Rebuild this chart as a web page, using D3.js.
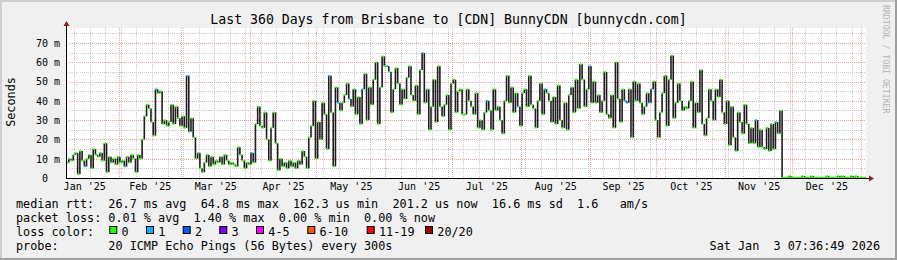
<!DOCTYPE html>
<html>
<head>
<meta charset="utf-8">
<script src="https://cdn.jsdelivr.net/npm/d3@7"></script>
<style>
  html, body { margin: 0; padding: 0; background: #f0f0f0; }
  svg text { font-family: "DejaVu Sans Mono", monospace; white-space: pre; }
</style>
</head>
<body>
<svg id="viz"></svg>
<script>
// Size of the picture, same as the rrdtool png
let width = 897, height = 260;

// Median round trip time, one value a day (ms), from 8 Jan 2025 on.
const medianMs = [
  8,10,9,12,13,2,14,9,6,10,12,5,15,12,11,13,9,18,3,11,8,10,7,11,8,9,6,11,8,12,10,3,12,10,20,32,38,36,29,22,
  46,44,45,28,30,27,29,38,28,37,31,27,32,26,53,24,31,21,10,13,5,3,8,12,6,11,7,9,8,11,7,12,9,
  7,8,7,6,16,12,9,5,8,7,13,8,28,37,27,26,34,20,9,26,34,18,4,10,6,8,5,9,6,8,5,9,7,14,11,5,21,27,40,10,
  29,20,39,33,15,53,34,6,47,39,35,39,43,49,41,37,46,33,42,28,46,54,30,47,38,51,60,28,47,63,58,58,
  55,34,46,57,49,38,46,41,52,58,43,40,48,33,56,64.8,39,46,25,37,51,29,58,37,32,38,43,25,49,51,34,45,46,33,33,
  46,40,37,33,44,26,30,25,34,40,35,25,46,35,37,30,23,40,53,39,47,34,44,37,27,44,46,37,53,38,36,26,40,49,33,46,44,
  40,29,42,28,48,30,26,39,25,43,47,34,51,36,59,51,37,46,58,39,50,39,43,34,40,55,33,31,43,26,60,41,29,46,40,39,
  46,21,50,40,49,39,33,37,44,39,46,50,30,21,34,44,53,27,51,63.5,31,39,49,40,35,37,36,40,50,26,39,34,56,28,22,31,
  46,40,30,46,42,51,34,28,40,17,37,21,14,34,29,23,38,28,18,26,18,30,16,25,16,15,26,14,28,15,29,23,35,
  0.2,0.2,0.2,1,0.2,0.2,0.2,0.2,0.2,1,0.2,0.2,0.2,1,0.2,0.2,0.2,0.2,0.2,0.2,1,0.2,0.2,0.2,0.2,1,0.2,1,
  0.2,0.2,0.2,1,0.2,1,0.2,0.2,0.2,0.2
];

// Days (index into medianMs) where one of the 20 pings was lost
const loss1Days = [8, 26, 40, 54, 55, 83, 118, 122, 127, 133, 144, 160, 189, 203, 215, 235, 251, 252, 262, 263, 310, 319];

const lossLabels = ["0", "1", "2", "3", "4-5", "6-10", "11-19", "20/20"];
const lossColors = ["#26ff00", "#00b8ff", "#0059ff", "#7e00ff", "#ff00ff", "#ff5500", "#ff0000", "#a00000"];

const yMajorMs = [0, 10, 20, 30, 40, 50, 60, 70];
const yMinorMs = [5, 15, 25, 35, 45, 55, 65, 75];
const monthLabels = ["Jan '25", "Feb '25", "Mar '25", "Apr '25", "May '25", "Jun '25",
                     "Jul '25", "Aug '25", "Sep '25", "Oct '25", "Nov '25", "Dec '25"];

const titleText = "Last 360 Days from Brisbane to [CDN] BunnyCDN [bunnycdn.com]";
const legendRows = [
  "median rtt:  26.7 ms avg  64.8 ms max  162.3 us min  201.2 us now  16.6 ms sd  1.6   am/s",
  "packet loss: 0.01 % avg  1.40 % max  0.00 % min  0.00 % now",
  "loss color:",
  "probe:       20 ICMP Echo Pings (56 Bytes) every 300s"
];
const stampText = "Sat Jan  3 07:36:49 2026";

// Time span of the graph (treated as UTC so the browser zone does not matter)
const tStart = new Date(Date.UTC(2025, 0, 8, 7, 36, 49));
const tEnd = new Date(Date.UTC(2026, 0, 3, 7, 36, 49));
const DAY = 86400000;

const plot = {left: 66, right: 866, top: 28, bottom: 178};

const svg = d3.select("#viz")
  .attr("width", width)
  .attr("height", height);

// Background plus the rrdtool shaded frame
svg.append("rect").attr("width", width).attr("height", height).attr("fill", "#f0f0f0");
svg.append("rect").attr("x", 0).attr("y", 0).attr("width", width).attr("height", 2).attr("fill", "#cfcfcf");
svg.append("rect").attr("x", 0).attr("y", 0).attr("width", 2).attr("height", height).attr("fill", "#cfcfcf");
svg.append("rect").attr("x", 0).attr("y", height - 2).attr("width", width).attr("height", 2).attr("fill", "#9e9e9e");
svg.append("rect").attr("x", width - 2).attr("y", 0).attr("width", 2).attr("height", height).attr("fill", "#9e9e9e");

// Scales. smokeping sets the upper limit to 1.2 times the max median
const x = d3.scaleUtc().domain([tStart, tEnd]).range([plot.left, plot.right]);
const y = d3.scaleLinear().domain([0, d3.max(medianMs) * 1.2]).range([plot.bottom, plot.top]);

svg.append("rect")
  .attr("x", plot.left).attr("y", plot.top)
  .attr("width", plot.right - plot.left).attr("height", plot.bottom - plot.top)
  .attr("fill", "#ffffff");

// Grid: weekly (sunday) minor lines, monthly major lines
const grid = svg.append("g").attr("shape-rendering", "crispEdges");
const sundays = d3.utcSunday.range(tStart, tEnd);
const months = d3.utcMonth.range(tStart, tEnd);

grid.selectAll(".vmin").data(sundays).enter().append("line")
  .attr("x1", d => Math.round(x(d)) + 0.5).attr("x2", d => Math.round(x(d)) + 0.5)
  .attr("y1", plot.top).attr("y2", plot.bottom)
  .attr("stroke", "#c8c8c8").attr("stroke-dasharray", "1,1");
grid.selectAll(".hmin").data(yMinorMs).enter().append("line")
  .attr("x1", plot.left).attr("x2", plot.right)
  .attr("y1", d => Math.round(y(d)) + 0.5).attr("y2", d => Math.round(y(d)) + 0.5)
  .attr("stroke", "#c8c8c8").attr("stroke-dasharray", "1,1");
grid.selectAll(".vmaj").data(months).enter().append("line")
  .attr("x1", d => Math.round(x(d)) + 0.5).attr("x2", d => Math.round(x(d)) + 0.5)
  .attr("y1", plot.top).attr("y2", plot.bottom)
  .attr("stroke", "#f2a0a0").attr("stroke-dasharray", "1,1");
grid.selectAll(".hmaj").data(yMajorMs.slice(1)).enter().append("line")
  .attr("x1", plot.left).attr("x2", plot.right)
  .attr("y1", d => Math.round(y(d)) + 0.5).attr("y2", d => Math.round(y(d)) + 0.5)
  .attr("stroke", "#f2a0a0").attr("stroke-dasharray", "1,1");

// The samples: step i runs from day i to day i+1
const samples = medianMs.map((v, i) => ({
  t0: new Date(tStart.getTime() + i * DAY),
  t1: new Date(tStart.getTime() + (i + 1) * DAY),
  v: v,
  prev: i > 0 ? medianMs[i - 1] : v,
  loss: loss1Days.includes(i) ? 1 : 0
}));

const data = svg.append("g");

// dark "smoke" bars joining one median to the next
data.selectAll(".smoke").data(samples).enter().append("rect")
  .attr("x", d => x(d.t0) - 0.25)
  .attr("y", d => y(Math.max(d.v, d.prev)))
  .attr("width", 1.6)
  .attr("height", d => Math.max(1, Math.abs(y(d.v) - y(d.prev))))
  .attr("fill", "#1e1e1e");

// median in the loss colour
data.selectAll(".median").data(samples).enter().append("rect")
  .attr("x", d => x(d.t0))
  .attr("y", d => y(d.v) - 0.8)
  .attr("width", d => x(d.t1) - x(d.t0))
  .attr("height", 1.6)
  .attr("fill", d => lossColors[d.loss]);

// Axes lines with the small arrows
const arrowColor = "#8e1c1c";
svg.append("line")
  .attr("x1", plot.left).attr("x2", plot.right + 4)
  .attr("y1", plot.bottom + 0.5).attr("y2", plot.bottom + 0.5)
  .attr("stroke", "#000");
svg.append("line")
  .attr("x1", plot.left + 0.5).attr("x2", plot.left + 0.5)
  .attr("y1", plot.bottom + 1).attr("y2", plot.top - 3)
  .attr("stroke", "#000");
svg.append("path")
  .attr("d", `M${plot.right + 3},${plot.bottom - 2.5}L${plot.right + 8},${plot.bottom + 0.5}L${plot.right + 3},${plot.bottom + 3.5}Z`)
  .attr("fill", arrowColor);
svg.append("path")
  .attr("d", `M${plot.left - 2.5},${plot.top - 2}L${plot.left + 0.5},${plot.top - 7}L${plot.left + 3.5},${plot.top - 2}Z`)
  .attr("fill", arrowColor);

// Y axis labels
const yAxis = d3.axisLeft(y)
  .tickValues(yMajorMs)
  .tickSize(0)
  .tickPadding(6)
  .tickFormat(d => d === 0 ? "0\u00a0\u00a0" : d + " m");
const gy = svg.append("g").attr("transform", `translate(${plot.left},0)`).call(yAxis);
gy.select(".domain").remove();
gy.selectAll("text")
  .attr("font-family", "DejaVu Sans Mono")
  .attr("font-size", 10)
  .attr("fill", "#000")
  .attr("dy", "0.33em");

// X axis labels sit in the middle of each month
const monthEdges = d3.utcMonth.range(new Date(Date.UTC(2025, 0, 1)), new Date(Date.UTC(2026, 0, 2)));
const monthMids = monthLabels.map((m, i) => new Date((monthEdges[i].getTime() + monthEdges[i + 1].getTime()) / 2));
const xAxis = d3.axisBottom(x)
  .tickValues(monthMids)
  .tickSize(0)
  .tickPadding(5)
  .tickFormat((d, i) => monthLabels[i]);
const gx = svg.append("g").attr("transform", `translate(0,${plot.bottom})`).call(xAxis);
gx.select(".domain").remove();
gx.selectAll("text")
  .attr("font-family", "DejaVu Sans Mono")
  .attr("font-size", 10)
  .attr("fill", "#000");

// Title
svg.append("text")
  .attr("x", width / 2).attr("y", 24)
  .attr("text-anchor", "middle")
  .attr("font-size", "13.2px")
  .attr("fill", "#000")
  .text(titleText);

// Vertical axis title
svg.append("text")
  .attr("transform", "translate(15,102) rotate(-90)")
  .attr("text-anchor", "middle")
  .attr("font-size", "11.8px")
  .attr("fill", "#000")
  .text("Seconds");

// rrdtool watermark
svg.append("text")
  .attr("transform", "translate(883,5) rotate(90)")
  .attr("font-size", "8.2px")
  .attr("fill", "#b4b4b4")
  .text("RRDTOOL / TOBI OETIKER");

// Legend
const rowBase = [207.5, 221.5, 235.5, 249.5];
svg.selectAll(".legend").data(legendRows).enter().append("text")
  .attr("x", 16)
  .attr("y", (d, i) => rowBase[i])
  .attr("xml:space", "preserve")
  .attr("font-size", "11.8px")
  .attr("fill", "#000")
  .text(d => d);

svg.append("text")
  .attr("x", 880).attr("y", rowBase[3])
  .attr("text-anchor", "end")
  .attr("xml:space", "preserve")
  .attr("font-size", "11.8px")
  .attr("fill", "#000")
  .text(stampText);

// loss colour swatches
const swatchX = [109.3, 146, 182.7, 219.3, 256, 307.3, 366.7, 425];
const sw = svg.selectAll(".swatch").data(lossLabels).enter().append("g")
  .attr("transform", (d, i) => `translate(${swatchX[i]},0)`);
sw.append("rect")
  .attr("x", 0.5).attr("y", 226.5)
  .attr("width", 7).attr("height", 7)
  .attr("fill", (d, i) => lossColors[i])
  .attr("stroke", "#000");
sw.append("text")
  .attr("x", 12.3).attr("y", rowBase[2])
  .attr("font-size", "11.8px")
  .attr("fill", "#000")
  .text(d => d);
</script>
</body>
</html>
